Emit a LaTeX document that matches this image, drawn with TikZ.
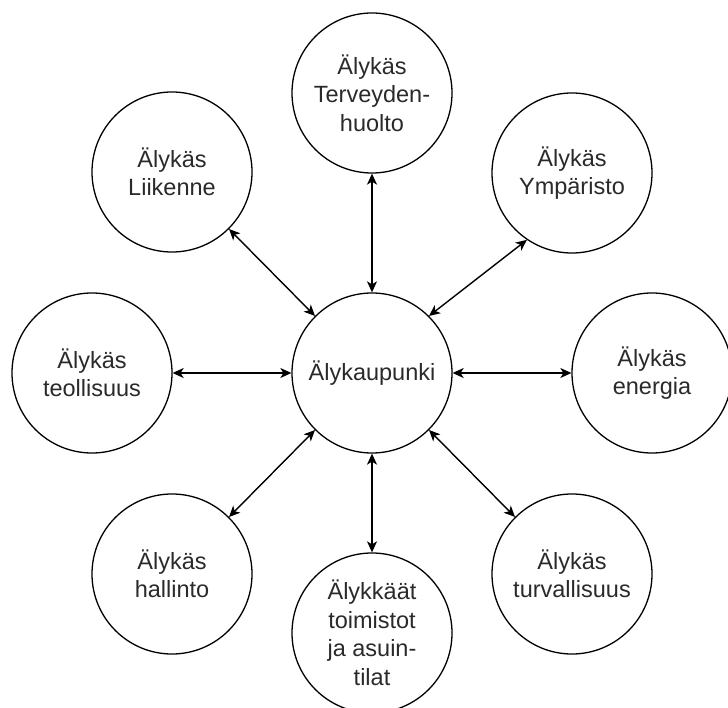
\documentclass[tikz,border=0pt]{standalone}
\usepackage{fontspec}
\setmainfont{Liberation Sans}
\usetikzlibrary{arrows.meta}
\definecolor{txt}{HTML}{2A2A2A}
\tikzset{
  topic/.style={circle, draw, line width=1.3pt, minimum size=160pt, inner sep=0pt,
    align=center, text=txt, font=\fontsize{23.5}{28.5}\selectfont},
  link/.style={line width=1.4pt, {Stealth[length=11pt,width=10pt,inset=3pt]}-{Stealth[length=11pt,width=10pt,inset=3pt]}}
}
\begin{document}
\begin{tikzpicture}[x=1pt,y=-1pt]
\useasboundingbox (0,0) rectangle (728,708);
\node[topic] (c)  at (372,373) {Älykaupunki};
\node[topic] (n)  at (372,93)  {Älykäs\\Terveyden-\\huolto};
\node[topic] (nw) at (172,172) {Älykäs\\Liikenne};
\node[topic] (ne) at (572,173) {Älykäs\\Ympäristo};
\node[topic] (w)  at (92,373)  {Älykäs\\teollisuus};
\node[topic] (e)  at (652,373) {Älykäs\\energia};
\node[topic] (sw) at (172,574) {Älykäs\\hallinto};
\node[topic] (s)  at (372,633) {Älykkäät\\toimistot\\ja asuin-\\tilat};
\node[topic] (se) at (572,574) {Älykäs\\turvallisuus};
\draw[link] (c.90) -- (n.270);
\draw[link] (c.180) -- (w.0);
\draw[link] (c.0) -- (e.180);
\draw[link] (c.270) -- (s.90);
\draw[link] (c.135) -- (nw.315);
\draw[link] (c.225) -- (sw.45);
\draw[link] (c.315) -- (se.135);
\draw[link] (c.45) -- (ne.236);
\end{tikzpicture}
\end{document}
